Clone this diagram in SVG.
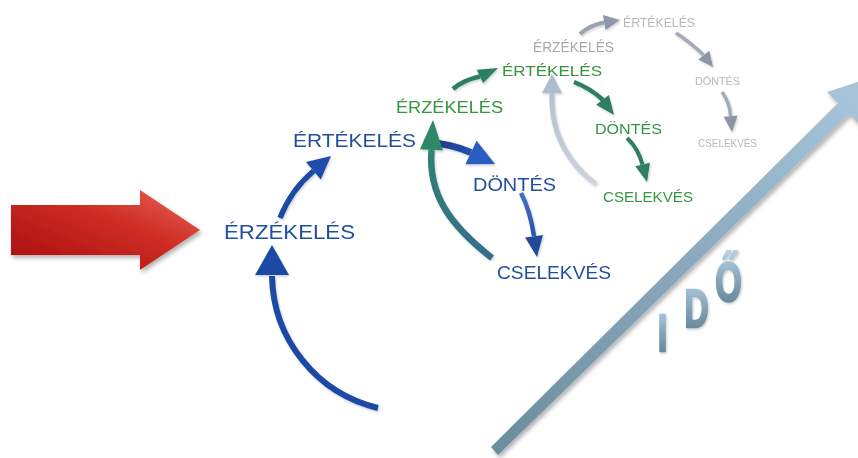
<svg xmlns="http://www.w3.org/2000/svg" xmlns:xlink="http://www.w3.org/1999/xlink" width="858" height="458" viewBox="0 0 858 458">
<style>
text{font-family:"Liberation Sans",Arial,sans-serif}
.blue{fill:#1f4f9e}
.green{fill:#35963f}
.grey1{fill:#a9a9a9}
.grey2{fill:#b8b8b8}
.conn{fill:none;stroke-linecap:butt}
.ido{font-weight:bold;fill:url(#idoGrad);stroke:url(#idoGrad);stroke-width:2.5;stroke-linejoin:round}
</style>
<defs>
<path id="head" d="M0 0 L-1 -0.5 L-1 0.5 Z"/>
<linearGradient id="redGrad" x1="0" y1="1" x2="1" y2="0">
<stop offset="0" stop-color="#a80b0b"/>
<stop offset="0.6" stop-color="#cf2e26"/>
<stop offset="1" stop-color="#e8675a"/>
</linearGradient>
<linearGradient id="timeGrad" gradientUnits="userSpaceOnUse" x1="495" y1="451" x2="860" y2="100">
<stop offset="0" stop-color="#6c8c9f"/>
<stop offset="0.5" stop-color="#88a7bc"/>
<stop offset="1" stop-color="#a7c4da"/>
</linearGradient>
<linearGradient id="idoGrad" x1="0" y1="0" x2="0" y2="1">
<stop offset="0" stop-color="#b9d1e3"/>
<stop offset="0.55" stop-color="#7f9fb5"/>
<stop offset="1" stop-color="#5d7b91"/>
</linearGradient>
<linearGradient id="tealGrad" gradientUnits="userSpaceOnUse" x1="0" y1="258" x2="0" y2="120">
<stop offset="0" stop-color="#366c8e"/>
<stop offset="1" stop-color="#2e8a68"/>
</linearGradient>
<linearGradient id="blue3Grad" gradientUnits="userSpaceOnUse" x1="424" y1="0" x2="495" y2="0">
<stop offset="0" stop-color="#1a357d"/>
<stop offset="1" stop-color="#2c5fc6"/>
</linearGradient>
<linearGradient id="blue4Grad" gradientUnits="userSpaceOnUse" x1="0" y1="193" x2="0" y2="257">
<stop offset="0" stop-color="#3f70cc"/>
<stop offset="1" stop-color="#22468f"/>
</linearGradient>
<linearGradient id="lgGrad" gradientUnits="userSpaceOnUse" x1="0" y1="187" x2="0" y2="74">
<stop offset="0" stop-color="#cdd4dc"/>
<stop offset="1" stop-color="#aebccb"/>
</linearGradient>
<filter id="shadow" x="-10%" y="-10%" width="130%" height="140%">
<feDropShadow dx="2" dy="3" stdDeviation="2" flood-color="#000" flood-opacity="0.3"/>
</filter>
<filter id="softShadow" x="-10%" y="-10%" width="130%" height="130%">
<feDropShadow dx="1" dy="1.5" stdDeviation="1" flood-color="#000" flood-opacity="0.2"/>
</filter>
</defs>

<rect width="858" height="458" fill="#ffffff"/>

<!-- input red arrow -->
<polygon id="input-arrow" points="11,205 140,205 140,190 200,230 140,270 140,255 11,255" fill="url(#redGrad)" filter="url(#shadow)"/>

<!-- time arrow -->
<g id="time-axis" filter="url(#shadow)">
<polygon points="491,447 838,103 827,92 876,76 860,125 849,114 498,455" fill="url(#timeGrad)"/>
</g>
<g id="ido-label" class="ido" filter="url(#softShadow)">
<g transform="translate(662.5 351) scale(0.66 1)"><text x="0" y="0" text-anchor="middle" font-size="52">I</text></g>
<g transform="translate(696.5 327) scale(0.62 1)"><text x="0" y="0" text-anchor="middle" font-size="54">D</text></g>
<g transform="translate(728.5 301) scale(0.62 1)"><text x="0" y="0" text-anchor="middle" font-size="55">Ő</text></g>
</g>

<!-- connectors -->
<g id="connectors" filter="url(#softShadow)">
<!-- blue cycle -->
<path class="conn" d="M378 408 A138 138 0 0 1 272 276" stroke="#1b4aa5" stroke-width="6"/>
<use href="#head" transform="translate(272 245) rotate(-90) scale(30 34)" fill="#1b4aa5"/>
<path class="conn" d="M280 218 Q291 190 313.5 171" stroke="#1b4aa5" stroke-width="5.5"/>
<use href="#head" transform="translate(331 156) rotate(-40) scale(23 23)" fill="#1d4dab"/>
<path class="conn" d="M424 143 Q447 142 471 152.5" stroke="url(#blue3Grad)" stroke-width="7"/>
<use href="#head" transform="translate(495 164) rotate(25.6) scale(26.6 26)" fill="#2c5dc2"/>
<path class="conn" d="M521 193 Q530 210 534 236" stroke="url(#blue4Grad)" stroke-width="4.5"/>
<use href="#head" transform="translate(537 257) rotate(82) scale(21 18)" fill="#24489a"/>
<!-- teal return -->
<path class="conn" d="M492 258 C450 225 428 195 431.5 150" stroke="url(#tealGrad)" stroke-width="6.5"/>
<use href="#head" transform="translate(433 120) rotate(-87) scale(30 23)" fill="#2e8868"/>
<!-- green cycle -->
<path class="conn" d="M453 89 Q463 80 480 76.5" stroke="#2f7f62" stroke-width="4.5"/>
<use href="#head" transform="translate(498 68) rotate(-25) scale(20 15)" fill="#2f7f62"/>
<path class="conn" d="M574 82 Q590 88 603 100" stroke="#2f7f62" stroke-width="4.5"/>
<use href="#head" transform="translate(614 115) rotate(53) scale(19 16)" fill="#2f7f62"/>
<path class="conn" d="M627 138 Q638 148 642.5 164.5" stroke="#2f7f62" stroke-width="4"/>
<use href="#head" transform="translate(647 182) rotate(76) scale(18 15)" fill="#2f7f62"/>
<!-- light grey return -->
<path class="conn" d="M596 184 C570 165 550 135 552 92" stroke="url(#lgGrad)" stroke-width="5"/>
<use href="#head" transform="translate(552 74) rotate(-90) scale(19 20)" fill="#aebccb"/>
<!-- grey cycle -->
<path class="conn" d="M580 34 Q590 25 604 22.5" stroke="#9ba3b3" stroke-width="4"/>
<use href="#head" transform="translate(620 20) rotate(-9) scale(16 15)" fill="#8f98aa"/>
<path class="conn" d="M676 33 Q690 42 703.5 55" stroke="#a4abb8" stroke-width="3.5"/>
<use href="#head" transform="translate(713 67) rotate(52) scale(15 14)" fill="#8d94a6"/>
<path class="conn" d="M722 92 Q730 103 730.5 116" stroke="#a4abb8" stroke-width="3.5"/>
<use href="#head" transform="translate(732 132) rotate(85) scale(16 14)" fill="#8d94a6"/>
</g>

<!-- blue cycle nodes -->
<g id="blue-erzekeles"><text class="blue" x="224" y="239" font-size="20" textLength="131" lengthAdjust="spacingAndGlyphs">ÉRZÉKELÉS</text></g>
<g id="blue-ertekeles"><text class="blue" x="293" y="147" font-size="19" textLength="123" lengthAdjust="spacingAndGlyphs">ÉRTÉKELÉS</text></g>
<g id="blue-dontes"><text class="blue" x="473" y="191" font-size="19" textLength="83" lengthAdjust="spacingAndGlyphs">DÖNTÉS</text></g>
<g id="blue-cselekves"><text class="blue" x="497" y="279" font-size="19" textLength="114" lengthAdjust="spacingAndGlyphs">CSELEKVÉS</text></g>

<!-- green cycle nodes -->
<g id="green-erzekeles"><text class="green" x="396" y="113" font-size="16" textLength="107" lengthAdjust="spacingAndGlyphs">ÉRZÉKELÉS</text></g>
<g id="green-ertekeles"><text class="green" x="502" y="76" font-size="15.5" textLength="100" lengthAdjust="spacingAndGlyphs">ÉRTÉKELÉS</text></g>
<g id="green-dontes"><text class="green" x="595" y="134" font-size="15.5" textLength="67" lengthAdjust="spacingAndGlyphs">DÖNTÉS</text></g>
<g id="green-cselekves"><text class="green" x="603" y="202" font-size="15" textLength="90" lengthAdjust="spacingAndGlyphs">CSELEKVÉS</text></g>

<!-- grey cycle nodes -->
<g id="grey-erzekeles"><text class="grey1" x="533" y="52" font-size="14" textLength="81" lengthAdjust="spacingAndGlyphs">ÉRZÉKELÉS</text></g>
<g id="grey-ertekeles"><text class="grey2" x="623" y="27" font-size="12" textLength="72" lengthAdjust="spacingAndGlyphs">ÉRTÉKELÉS</text></g>
<g id="grey-dontes"><text class="grey2" x="695" y="85" font-size="11.5" textLength="45" lengthAdjust="spacingAndGlyphs">DÖNTÉS</text></g>
<g id="grey-cselekves"><text class="grey2" x="698" y="147" font-size="10" textLength="59" lengthAdjust="spacingAndGlyphs">CSELEKVÉS</text></g>
</svg>
